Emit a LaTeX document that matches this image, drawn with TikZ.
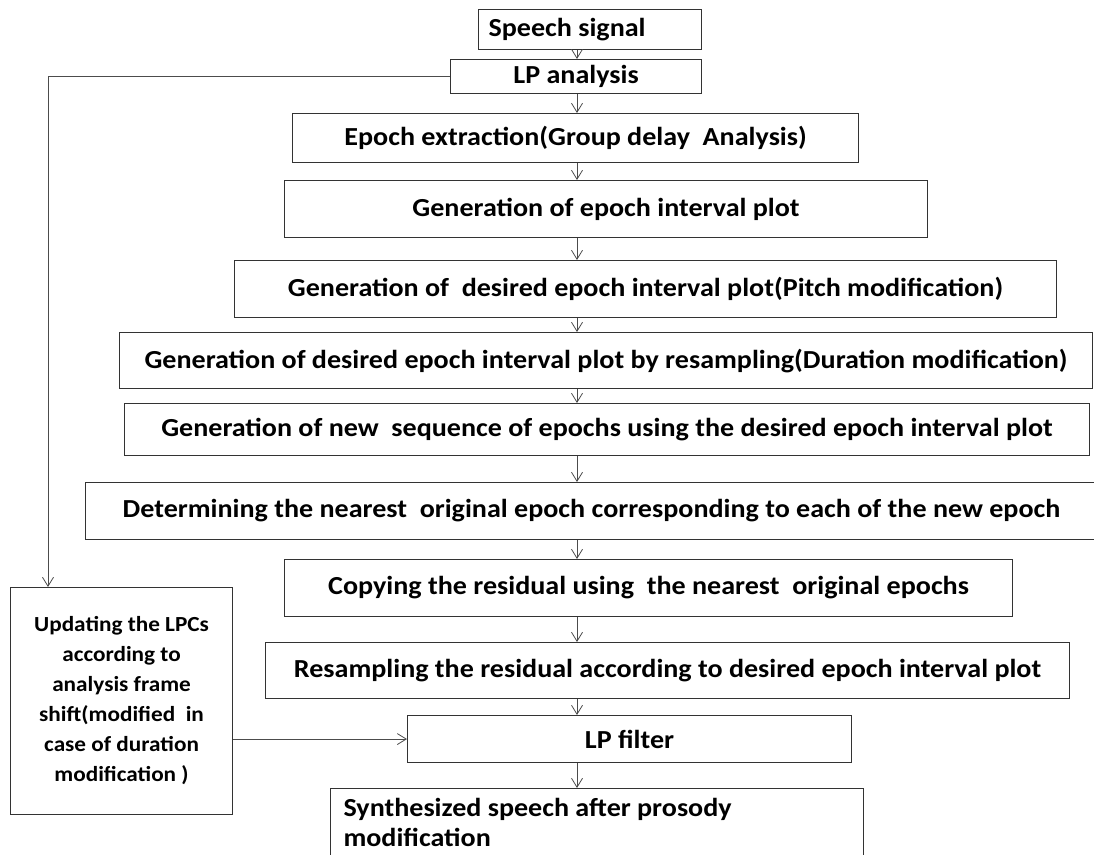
\documentclass[tikz,border=0pt]{standalone}
\usepackage{fontspec}
\setmainfont{Carlito}[FakeStretch=1.08]
\usetikzlibrary{arrows.meta,calc}
\tikzset{
  box/.style={draw=black!80, line width=1.1pt, fill=white, inner sep=0pt, anchor=north west,
    align=center, font=\bfseries\fontsize{26}{30}\selectfont},
  arr/.style={draw=black!70, line width=0.8pt, -{Straight Barb[length=9pt,width=11pt]}},
}
\begin{document}
\begin{tikzpicture}[x=1pt,y=-1pt]
\clip (0,0) rectangle (1094,854);
\fill[white] (0,0) rectangle (1094,854);
\coordinate (ax) at (577,0);
\node[box, minimum width=223pt, minimum height=40pt, inner xsep=10pt, text width=203pt, align=flush left] (speech) at (478,9) {Speech signal};
\node[box, minimum width=251pt, minimum height=34pt] (lpa) at (450,59) {LP analysis};
\node[box, minimum width=566pt, minimum height=49pt] (epoch) at (292,113) {Epoch extraction(Group delay\ \ Analysis)};
\node[box, minimum width=643pt, minimum height=57pt] (gen) at (284,180) {Generation of epoch interval plot};
\node[box, minimum width=822pt, minimum height=57pt] (pitch) at (234,260) {Generation of\ \ desired epoch interval plot(Pitch modification)};
\node[box, minimum width=973pt, minimum height=56pt] (resamp) at (119,332) {Generation of desired epoch interval plot by resampling(Duration modification)};
\node[box, minimum width=965pt, minimum height=52pt] (newseq) at (124,403) {Generation of new\ \ sequence of epochs using the desired epoch interval plot};
\node[box, minimum width=1012pt, minimum height=57pt] (det) at (85,482) {Determining the nearest\ \ original epoch corresponding to each of the new epoch};
\node[box, minimum width=728pt, minimum height=57pt] (copy) at (284,559) {Copying the residual using\ \ the nearest\ \ original epochs};
\node[box, minimum width=804pt, minimum height=56pt] (resres) at (265,642) {Resampling the residual according to desired epoch interval plot};
\node[box, minimum width=444pt, minimum height=47pt] (lpf) at (407,715) {LP filter};
\node[box, inner xsep=13pt, inner ysep=10pt, text width=507pt, align=flush left, font=\bfseries\fontsize{26}{30}\selectfont] (synth) at (330,788) {Synthesized speech after prosody\\modification};
\node[box, minimum width=222pt, minimum height=227pt, font=\bfseries\fontsize{21.5}{30}\selectfont] (lbox) at (10,587) {Updating the LPCs\\according to\\analysis frame\\shift(modified\ \ in\\case of duration\\modification )};
\draw[arr] (speech.south -| ax) -- (lpa.north -| ax);
\draw[arr] (lpa.south -| ax) -- (epoch.north -| ax);
\draw[arr] (epoch.south -| ax) -- (gen.north -| ax);
\draw[arr] (gen.south -| ax) -- (pitch.north -| ax);
\draw[arr] (pitch.south -| ax) -- (resamp.north -| ax);
\draw[arr] (resamp.south -| ax) -- (newseq.north -| ax);
\draw[arr] (newseq.south -| ax) -- (det.north -| ax);
\draw[arr] (det.south -| ax) -- (copy.north -| ax);
\draw[arr] (copy.south -| ax) -- (resres.north -| ax);
\draw[arr] (resres.south -| ax) -- (lpf.north -| ax);
\draw[arr] (lpf.south -| ax) -- (synth.north -| ax);
\draw[arr] (lpa.west) -| ($(lbox.north west)+(38,0)$);
\draw[arr] (lbox.east |- lpf.west) -- (lpf.west);
\end{tikzpicture}
\end{document}
